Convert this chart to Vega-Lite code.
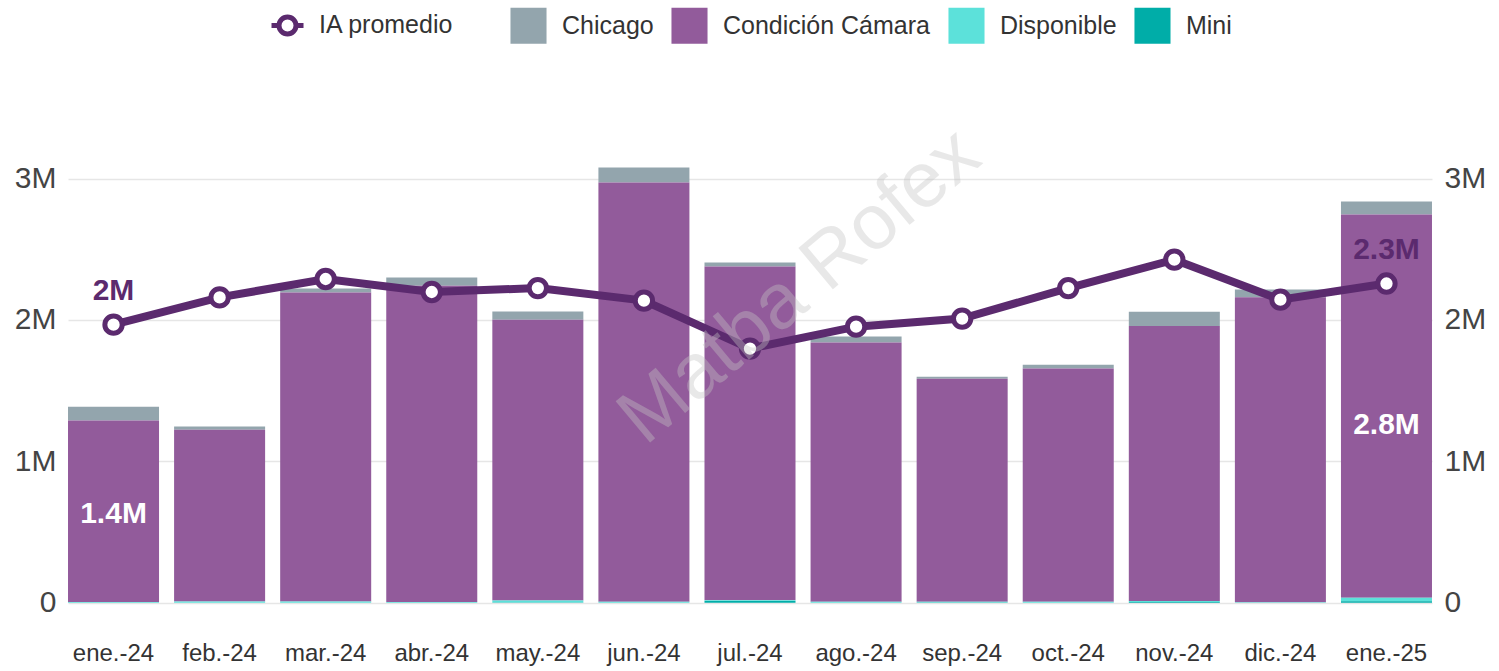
{
  "$schema": "https://vega.github.io/schema/vega-lite/v6.json",
  "width": 1364,
  "height": 494.67,
  "autosize": {"type": "none"},
  "padding": {"left": 68, "top": 108, "right": 67, "bottom": 68},
  "background": "white",
  "config": {
    "font": "Liberation Sans",
    "view": {"stroke": null}
  },
  "datasets": {
    "barras": [
      {"mes": "ene.-24", "serie": "Chicago", "valor": 99000},
      {"mes": "ene.-24", "serie": "Condición Cámara", "valor": 1284000},
      {"mes": "ene.-24", "serie": "Disponible", "valor": 4000},
      {"mes": "ene.-24", "serie": "Mini", "valor": 0},
      {"mes": "feb.-24", "serie": "Chicago", "valor": 22000},
      {"mes": "feb.-24", "serie": "Condición Cámara", "valor": 1216000},
      {"mes": "feb.-24", "serie": "Disponible", "valor": 8000},
      {"mes": "feb.-24", "serie": "Mini", "valor": 0},
      {"mes": "mar.-24", "serie": "Chicago", "valor": 28000},
      {"mes": "mar.-24", "serie": "Condición Cámara", "valor": 2186000},
      {"mes": "mar.-24", "serie": "Disponible", "valor": 8000},
      {"mes": "mar.-24", "serie": "Mini", "valor": 0},
      {"mes": "abr.-24", "serie": "Chicago", "valor": 57000},
      {"mes": "abr.-24", "serie": "Condición Cámara", "valor": 2239000},
      {"mes": "abr.-24", "serie": "Disponible", "valor": 4000},
      {"mes": "abr.-24", "serie": "Mini", "valor": 0},
      {"mes": "may.-24", "serie": "Chicago", "valor": 58000},
      {"mes": "may.-24", "serie": "Condición Cámara", "valor": 1987000},
      {"mes": "may.-24", "serie": "Disponible", "valor": 13000},
      {"mes": "may.-24", "serie": "Mini", "valor": 2000},
      {"mes": "jun.-24", "serie": "Chicago", "valor": 107000},
      {"mes": "jun.-24", "serie": "Condición Cámara", "valor": 2965000},
      {"mes": "jun.-24", "serie": "Disponible", "valor": 7000},
      {"mes": "jun.-24", "serie": "Mini", "valor": 0},
      {"mes": "jul.-24", "serie": "Chicago", "valor": 28000},
      {"mes": "jul.-24", "serie": "Condición Cámara", "valor": 2361000},
      {"mes": "jul.-24", "serie": "Disponible", "valor": 5000},
      {"mes": "jul.-24", "serie": "Mini", "valor": 12000},
      {"mes": "ago.-24", "serie": "Chicago", "valor": 43000},
      {"mes": "ago.-24", "serie": "Condición Cámara", "valor": 1833000},
      {"mes": "ago.-24", "serie": "Disponible", "valor": 7000},
      {"mes": "ago.-24", "serie": "Mini", "valor": 0},
      {"mes": "sep.-24", "serie": "Chicago", "valor": 14000},
      {"mes": "sep.-24", "serie": "Condición Cámara", "valor": 1578000},
      {"mes": "sep.-24", "serie": "Disponible", "valor": 6000},
      {"mes": "sep.-24", "serie": "Mini", "valor": 1000},
      {"mes": "oct.-24", "serie": "Chicago", "valor": 28000},
      {"mes": "oct.-24", "serie": "Condición Cámara", "valor": 1649000},
      {"mes": "oct.-24", "serie": "Disponible", "valor": 7000},
      {"mes": "oct.-24", "serie": "Mini", "valor": 0},
      {"mes": "nov.-24", "serie": "Chicago", "valor": 101000},
      {"mes": "nov.-24", "serie": "Condición Cámara", "valor": 1946000},
      {"mes": "nov.-24", "serie": "Disponible", "valor": 6000},
      {"mes": "nov.-24", "serie": "Mini", "valor": 5000},
      {"mes": "dic.-24", "serie": "Chicago", "valor": 54000},
      {"mes": "dic.-24", "serie": "Condición Cámara", "valor": 2158000},
      {"mes": "dic.-24", "serie": "Disponible", "valor": 3000},
      {"mes": "dic.-24", "serie": "Mini", "valor": 0},
      {"mes": "ene.-25", "serie": "Chicago", "valor": 92000},
      {"mes": "ene.-25", "serie": "Condición Cámara", "valor": 2711000},
      {"mes": "ene.-25", "serie": "Disponible", "valor": 25000},
      {"mes": "ene.-25", "serie": "Mini", "valor": 10000}
    ],
    "ia": [
      {"mes": "ene.-24", "ia": 1967000, "etiqueta": "2M"},
      {"mes": "feb.-24", "ia": 2160000, "etiqueta": ""},
      {"mes": "mar.-24", "ia": 2290000, "etiqueta": ""},
      {"mes": "abr.-24", "ia": 2198000, "etiqueta": ""},
      {"mes": "may.-24", "ia": 2226000, "etiqueta": ""},
      {"mes": "jun.-24", "ia": 2137000, "etiqueta": ""},
      {"mes": "jul.-24", "ia": 1798000, "etiqueta": ""},
      {"mes": "ago.-24", "ia": 1953000, "etiqueta": ""},
      {"mes": "sep.-24", "ia": 2010000, "etiqueta": ""},
      {"mes": "oct.-24", "ia": 2226000, "etiqueta": ""},
      {"mes": "nov.-24", "ia": 2427000, "etiqueta": ""},
      {"mes": "dic.-24", "ia": 2144000, "etiqueta": ""},
      {"mes": "ene.-25", "ia": 2258000, "etiqueta": "2.3M"}
    ],
    "etiquetas": [
      {"mes": "ene.-24", "texto": "1.4M", "valor": 1400000},
      {"mes": "ene.-25", "texto": "2.8M", "valor": 2800000}
    ],
    "marca": [
      {"mes": "jul.-24", "texto": "Matba Rofex", "valor": 2215000}
    ]
  },
  "encoding": {
    "x": {
      "field": "mes",
      "type": "ordinal",
      "sort": ["ene.-24", "feb.-24", "mar.-24", "abr.-24", "may.-24", "jun.-24", "jul.-24", "ago.-24", "sep.-24", "oct.-24", "nov.-24", "dic.-24", "ene.-25"],
      "scale": {"paddingInner": 0.142, "paddingOuter": 0},
      "axis": {"title": null, "labelAngle": 0, "labelFontSize": 24, "labelColor": "#333333", "ticks": false, "domain": false, "labelPadding": 39}
    }
  },
  "layer": [
    {
      "data": {"name": "barras"},
      "mark": {"type": "bar"},
      "encoding": {
        "y": {
          "field": "valor",
          "type": "quantitative",
          "stack": "zero",
          "scale": {"domain": [0, 3500000], "nice": false},
          "axis": {"orient": "left", "title": null, "values": [0, 1000000, 2000000, 3000000], "labelExpr": "datum.value == 0 ? '0' : (datum.value / 1000000) + 'M'", "labelFontSize": 30, "labelColor": "#444444", "grid": true, "gridColor": "#e6e6e6", "gridWidth": 1.5, "domain": false, "ticks": false, "labelPadding": 12}
        },
        "fill": {
          "field": "serie",
          "type": "nominal",
          "scale": {"domain": ["Chicago", "Condición Cámara", "Disponible", "Mini"], "range": ["#93a5ad", "#925b9b", "#5ce1da", "#00ada8"]},
          "legend": {"title": null, "orient": "none", "direction": "horizontal", "legendX": 442, "legendY": -101, "symbolType": "square", "symbolSize": 1300, "symbolStrokeWidth": 0, "labelFontSize": 25, "labelColor": "#333333", "labelOffset": 15, "columnPadding": 17, "labelLimit": 0, "padding": 0}
        },
        "order": {"field": "serie", "sort": "descending"}
      }
    },
    {
      "data": {"name": "etiquetas"},
      "transform": [{"calculate": "datum.valor * 0.45", "as": "pos"}],
      "mark": {"type": "text", "fontSize": 30, "fontWeight": "bold", "fill": "white", "baseline": "middle", "align": "center"},
      "encoding": {
        "y": {"field": "pos", "type": "quantitative", "axis": null},
        "text": {"field": "texto"}
      }
    },
    {
      "data": {"name": "ia"},
      "layer": [
        {
          "mark": {"type": "line", "strokeWidth": 8},
          "encoding": {
            "y": {
              "field": "ia",
              "type": "quantitative",
              "axis": {"orient": "right", "title": null, "values": [0, 1000000, 2000000, 3000000], "labelExpr": "datum.value == 0 ? '0' : (datum.value / 1000000) + 'M'", "labelFontSize": 30, "labelColor": "#444444", "grid": false, "domain": false, "ticks": false, "labelPadding": 12}
            },
            "color": {
              "datum": "IA promedio",
              "type": "nominal",
              "scale": {"domain": ["IA promedio"], "range": ["#5b2a6e"]},
              "legend": {"title": null, "orient": "none", "direction": "horizontal", "legendX": 207, "legendY": -95, "symbolType": "M-1.6,0L-0.85,0M0.85,0L1.6,0M0.85,0A0.85,0.85,0,1,1,-0.85,0A0.85,0.85,0,1,1,0.85,0", "symbolSize": 400, "symbolStrokeWidth": 5, "symbolFillColor": "white", "symbolStrokeColor": "#5b2a6e", "labelFontSize": 25, "labelColor": "#333333", "labelOffset": 19, "labelLimit": 0, "padding": 0}
            }
          }
        },
        {
          "mark": {"type": "point", "filled": false, "fill": "white", "fillOpacity": 1, "size": 300, "strokeWidth": 5, "opacity": 1},
          "encoding": {
            "y": {"field": "ia", "type": "quantitative"},
            "color": {"datum": "IA promedio", "type": "nominal"}
          }
        },
        {
          "mark": {"type": "text", "fontSize": 30, "fontWeight": "bold", "fill": "#5b2a6e", "baseline": "middle", "align": "center", "dy": -34},
          "encoding": {
            "y": {"field": "ia", "type": "quantitative"},
            "text": {"field": "etiqueta"}
          }
        }
      ]
    },
    {
      "data": {"name": "marca"},
      "mark": {"type": "text", "fontSize": 78, "angle": 320, "fill": "#c4c4c4", "opacity": 0.38, "align": "center", "baseline": "middle", "dx": 40, "dy": 30},
      "encoding": {
        "y": {"field": "valor", "type": "quantitative", "axis": null},
        "text": {"field": "texto"}
      }
    }
  ],
  "resolve": {"axis": {"y": "independent"}}
}
